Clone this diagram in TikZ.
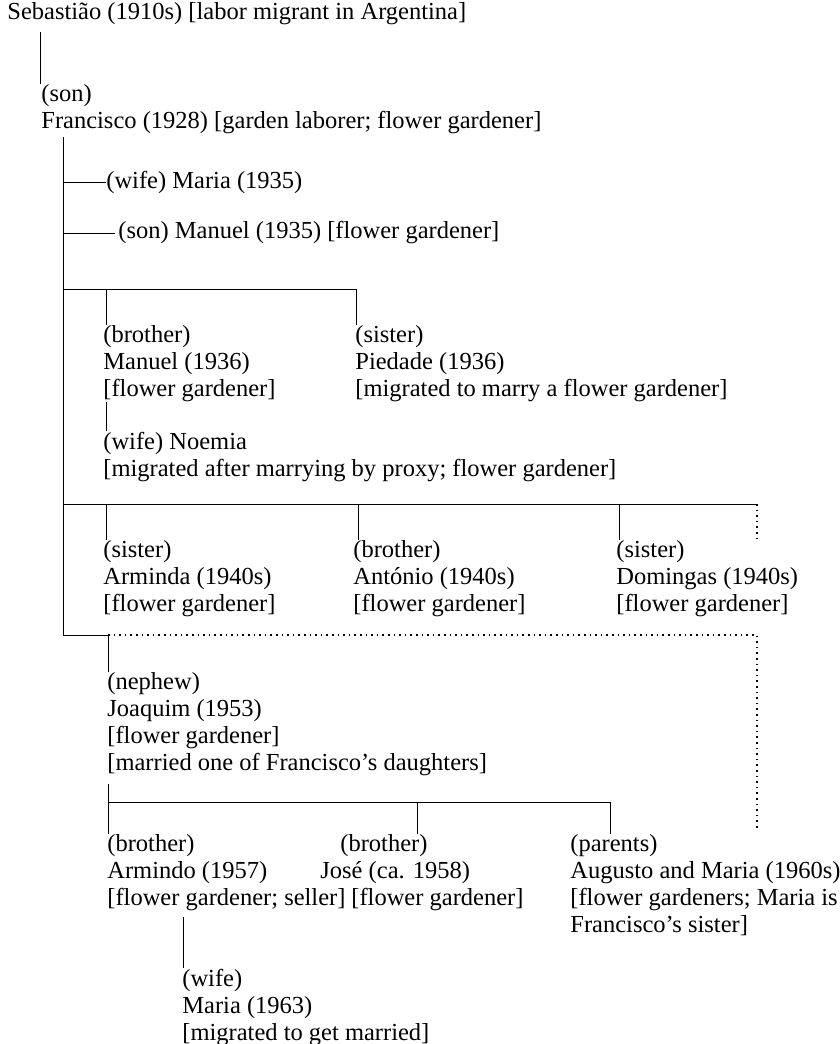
\documentclass[tikz,border=0pt]{standalone}
\usepackage{fontspec}
\setmainfont{Liberation Serif}
\usetikzlibrary{calc}
\tikzset{
  kin/.style={anchor=base west, align=left, inner sep=0pt, font=\fontsize{12.25}{13.5}\selectfont},
  tie/.style={line width=0.5pt},
  maybe/.style={line width=0.8pt, dotted},
}

\begin{document}
\begin{tikzpicture}[x=0.5pt,y=-0.5pt]
			%%%%% START %%%%%
			\useasboundingbox (0,0) rectangle (840,1044);
			
			% nodes sit on the baseline of their last line
			\node[kin] (sebastiao) at (7,19) {Sebastião (1910s) [labor migrant in Argentina]};
			\node[kin] (francisco) at (41,128) {(son)\\Francisco (1928) [garden laborer; flower gardener]};
			\node[kin] (maria) at (106,188) {(wife) Maria (1935)};
			\node[kin] (manuel) at (118,238) {(son) Manuel (1935) [flower gardener]};
			
			\node[kin] (manuelb) at (103,396) {(brother)\\Manuel (1936)\\{}[flower gardener]};
			\node[kin] (noemia) at (103,476) {(wife) Noemia\\{}[migrated after marrying by proxy; flower gardener]};
			\node[kin] (piedade) at (355,396) {(sister)\\Piedade (1936)\\{}[migrated to marry a flower gardener]};
			
			\node[kin] (arminda) at (103,611) {(sister)\\Arminda (1940s)\\{}[flower gardener]};
			\node[kin] (antonio) at (353,611) {(brother)\\António (1940s)\\{}[flower gardener]};
			\node[kin] (domingas) at (616,611) {(sister)\\Domingas (1940s)\\{}[flower gardener]};
			
			\node[kin] (joaquim) at (107,770) {(nephew)\\Joaquim (1953)\\{}[flower gardener]\\{}[married one of Francisco's daughters]};
			\node[kin] (armindo) at (107,905) {(brother)\\Armindo (1957)\\{}[flower gardener; seller]};
			\node[kin] (jose) at (320,905) {\hspace*{10pt}(brother)\\José (ca. 1958)\\\hspace*{15.5pt}[flower gardener]};
			\node[kin] (parents) at (570,932) {(parents)\\Augusto and Maria (1960s)\\{}[flower gardeners; Maria is\\Francisco's sister]};
			\node[kin] (mariab) at (182,1040) {(wife)\\Maria (1963)\\{}[migrated to get married]};
			
			% trunk
			\coordinate (s0) at (40,32);
			\coordinate (f0) at (63,137);
			\coordinate (f1) at (63,182);
			\coordinate (f2) at (63,233);
			\coordinate (g1) at (63,289);
			\coordinate (g2) at (63,504);
			\coordinate (g3) at (63,635);
			\draw[tie] (s0) -- (s0 |- francisco.north);
			\draw[tie] (f0) -- (g3);
			\draw[tie] (f1) -- (f1 -| maria.west);
			\draw[tie] (f2) -- ([xshift=-1.5pt]f2 -| manuel.west);
			
			% first siblings
			\coordinate (g1b) at (106,289);
			\coordinate (g1c) at (356,289);
			\draw[tie] (g1) -- (g1c) -- (g1c |- piedade.north);
			\draw[tie] (g1b) -- (g1b |- manuelb.north);
			\draw[tie] ([xshift=1.5pt]manuelb.south west) -- ([xshift=1.5pt]noemia.north west);
			
			% second siblings
			\coordinate (g2b) at (106,504);
			\coordinate (g2c) at (358,504);
			\coordinate (g2d) at (619,504);
			\coordinate (g2e) at (757,504);
			\coordinate (g2f) at (757,540);
			\draw[tie] (g2) -- (g2e);
			\draw[tie] (g2b) -- (g2b |- arminda.north);
			\draw[tie] (g2c) -- (g2c |- antonio.north);
			\draw[tie] (g2d) -- (g2d |- domingas.north);
			\draw[maybe] (g2e) -- (g2f);
			
			% nephew
			\coordinate (g3a) at (108,635);
			\coordinate (g3e) at (757,635);
			\coordinate (g3f) at (757,830);
			\draw[tie] (g3) -- (g3a) -- (g3a |- joaquim.north);
			\draw[maybe] (g3a) -- (g3e) -- (g3f);
			
			% Joaquim's kin
			\coordinate (j1) at (108,802);
			\coordinate (j2) at (417,802);
			\coordinate (j3) at (610,802);
			\draw[tie] ([xshift=0.5pt,yshift=-4pt]joaquim.south west) -- (j1 |- armindo.north);
			\draw[tie] (j1) -- (j3) -- (j3 |- parents.north);
			\draw[tie] (j2) -- (j2 |- jose.north);
			
			\coordinate (a1) at (183,917);
			\draw[tie] (a1) -- (a1 |- mariab.north);
			%%%%% END %%%%%
\end{tikzpicture}
\end{document}
